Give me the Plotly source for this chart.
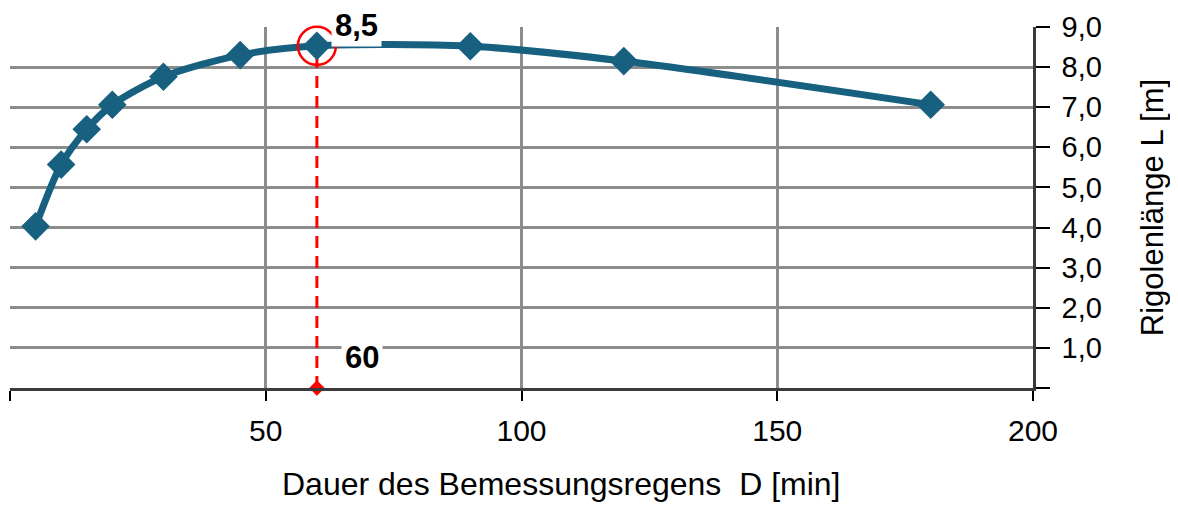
import plotly.graph_objects as go

# Rigolenlänge je Regendauer
dauer_min = [5, 10, 15, 20, 30, 45, 60, 90, 120, 180]
laenge_m = [4.03, 5.57, 6.45, 7.06, 7.76, 8.30, 8.53, 8.52, 8.15, 7.06]

# gewählter Bemessungspunkt
d_mass = [60, 60]
l_mass = [0, 8.53]
label_l = "8,5"
label_d = "60"

x_ticks = [0, 50, 100, 150, 200]
x_ticktext = ["", "50", "100", "150", "200"]
y_ticks = [0, 1, 2, 3, 4, 5, 6, 7, 8, 9]
y_ticktext = ["", "1,0", "2,0", "3,0", "4,0", "5,0", "6,0", "7,0", "8,0", "9,0"]

font = "Liberation Sans, Arial, sans-serif"
blue = "#17607F"
grid = "#8C8C8C"
axis = "#3A3A3A"

fig = go.Figure()

# red dashed drop line
fig.add_scatter(
    x=d_mass,
    y=l_mass,
    mode="lines",
    line=dict(color="#FF0000", width=3, dash="12px,8px"),
    hoverinfo="skip",
)

fig.add_scatter(
    x=dauer_min,
    y=laenge_m,
    mode="lines+markers",
    line=dict(color=blue, width=7, shape="spline", smoothing=0.8),
    marker=dict(symbol="diamond", size=22, color=blue),
)

# marker at the axis
fig.add_scatter(
    x=d_mass[:1],
    y=l_mass[:1],
    mode="markers",
    marker=dict(symbol="diamond", size=12, color="#FF0000"),
    cliponaxis=False,
)

# circle around the chosen point
fig.add_scatter(
    x=d_mass[1:],
    y=l_mass[1:],
    mode="markers",
    marker=dict(symbol="circle-open", size=38, color="#FF0000", line=dict(width=2.5)),
    cliponaxis=False,
)

fig.add_annotation(
    x=67.7, y=9, yshift=2, text="<b>" + label_l + "</b>", showarrow=False,
    bgcolor="white", font=dict(family=font, size=31, color="black"),
    borderpad=3,
)
fig.add_annotation(
    x=68.9, y=0.75, text="<b>" + label_d + "</b>", showarrow=False,
    bgcolor="white", font=dict(family=font, size=31, color="black"),
    borderpad=3,
)

# x title sits right of the plot centre in the original
fig.add_annotation(
    xref="paper", yref="paper", x=0.539, y=0, yanchor="middle", yshift=-96,
    text="Dauer des Bemessungsregens  D [min]", showarrow=False,
    font=dict(family=font, size=32, color="black"),
)

# the page body keeps its default 8px margin, so the figure is 8px smaller
fig.update_layout(
    width=1170,
    height=497,
    margin=dict(l=2, r=145, t=19, b=117, autoexpand=False),
    plot_bgcolor="white",
    paper_bgcolor="white",
    showlegend=False,
    font=dict(family=font, color="black"),
)

fig.update_xaxes(
    range=[0, 200],
    tickvals=x_ticks,
    ticktext=x_ticktext,
    ticks="outside",
    ticklen=10,
    tickwidth=1.5,
    tickcolor="black",
    tickfont=dict(size=30),
    ticklabelstandoff=4,
    showgrid=True,
    gridcolor=grid,
    gridwidth=2.5,
    showline=True,
    linecolor=axis,
    linewidth=2.5,
    zeroline=False,
)

fig.update_yaxes(
    range=[0, 9],
    side="right",
    tickvals=y_ticks,
    ticktext=y_ticktext,
    ticks="outside",
    ticklen=14,
    tickwidth=1.5,
    tickcolor="black",
    tickfont=dict(size=29),
    ticklabelstandoff=6,
    showgrid=True,
    gridcolor=grid,
    gridwidth=2.5,
    showline=True,
    linecolor=axis,
    linewidth=2.5,
    zeroline=False,
    title=dict(text="Rigolenlänge L [m]", font=dict(size=31), standoff=41),
)

fig.write_html("out.html")
